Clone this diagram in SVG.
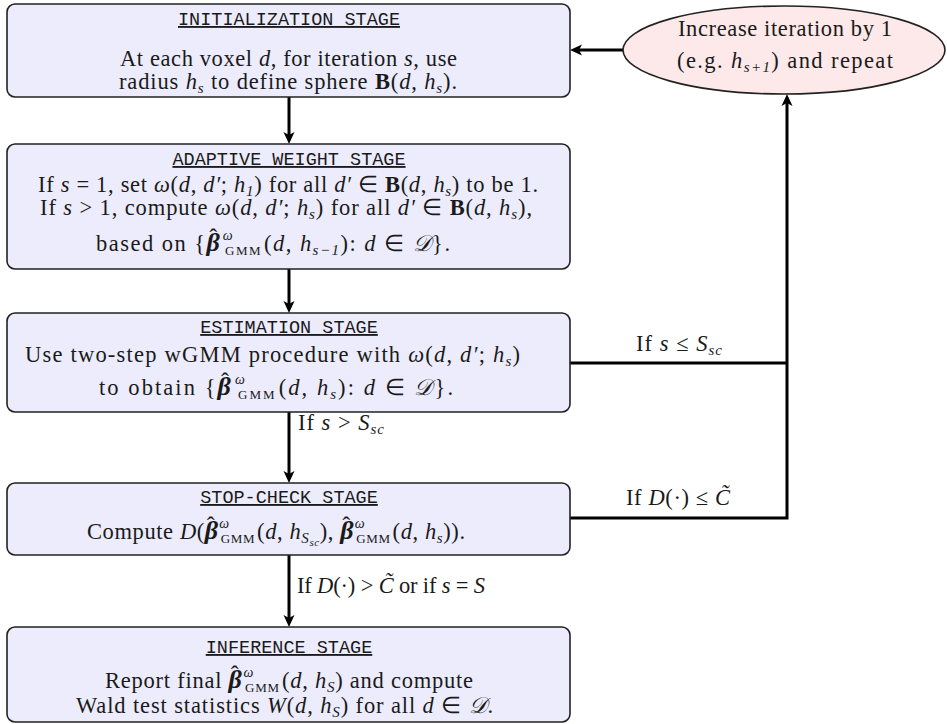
<svg xmlns="http://www.w3.org/2000/svg" width="947" height="724" viewBox="0 0 947 724">
<style>
.box{fill:#ececfc;stroke:#222;stroke-width:1.6}
.ell{fill:#fde9e9;stroke:#222;stroke-width:1.6}
.hdr{font-family:"Liberation Mono",monospace;font-size:18.5px;text-anchor:middle;text-decoration:underline;fill:#1a1a1a}
.t{font-family:"Liberation Serif",serif;font-size:22.5px;fill:#1a1a1a}
.i{font-style:italic}
.b{font-weight:bold}
.bb{font-weight:bold;font-style:italic;font-size:26px}
.hat{font-size:24px}
.sub{font-size:15px;font-style:italic}
.sup{font-size:14px;font-style:italic}
.sc{font-size:13px}
.ss{font-size:11px;font-style:italic}
.conn{stroke:#000;stroke-width:3;fill:none}
</style>
<defs>
<marker id="ah" viewBox="0 -6 13 12" refX="3" refY="0" markerWidth="13" markerHeight="12" markerUnits="userSpaceOnUse" orient="auto">
<path d="M0,-5.5 L12,0 L0,5.5 L3,0 z" fill="#000"/>
</marker>
</defs>
<g id="connectors">
<line class="conn" x1="289" y1="97" x2="289" y2="135" marker-end="url(#ah)"/>
<line class="conn" x1="289" y1="269" x2="289" y2="304" marker-end="url(#ah)"/>
<line class="conn" x1="289" y1="412" x2="289" y2="474" marker-end="url(#ah)"/>
<line class="conn" x1="289" y1="555" x2="289" y2="618" marker-end="url(#ah)"/>
<line class="conn" x1="623" y1="50" x2="579" y2="50" marker-end="url(#ah)"/>
<line class="conn" x1="570" y1="363" x2="787" y2="363"/>
<polyline class="conn" points="570,518 787,518 787,103" marker-end="url(#ah)"/>
<text class="t" x="636" y="351" textLength="86">If <tspan class="i">s</tspan> ≤ <tspan class="i">S</tspan><tspan class="sub" dy="4">sc</tspan></text>
<text class="t" x="626" y="505" textLength="104">If <tspan class="i">D</tspan>(·) ≤ <tspan class="i">C̃</tspan></text>
<text class="t" x="298" y="430" textLength="86">If <tspan class="i">s</tspan> &gt; <tspan class="i">S</tspan><tspan class="sub" dy="4">sc</tspan></text>
<text class="t" x="297" y="593" textLength="188">If <tspan class="i">D</tspan>(·) &gt; <tspan class="i">C̃</tspan> or if <tspan class="i">s</tspan> = <tspan class="i">S</tspan></text>
</g>
<g id="init">
<rect class="box" x="7" y="4" width="563" height="93" rx="8"/>
<text class="hdr" x="289" y="25">INITIALIZATION STAGE</text>
<text class="t" x="120" y="66" textLength="337">At each voxel <tspan class="i">d</tspan>, for iteration <tspan class="i">s</tspan>, use</text>
<text class="t" x="119" y="89" textLength="338">radius <tspan class="i">h</tspan><tspan class="sub" dy="4">s</tspan><tspan dy="-4"> to define sphere </tspan><tspan class="b">B</tspan>(<tspan class="i">d</tspan>, <tspan class="i">h</tspan><tspan class="sub" dy="4">s</tspan><tspan dy="-4">).</tspan></text>
</g>
<g id="adaptive">
<rect class="box" x="7" y="144" width="563" height="125" rx="8"/>
<text class="hdr" x="289" y="165">ADAPTIVE WEIGHT STAGE</text>
<text class="t" x="38" y="192" textLength="500">If <tspan class="i">s</tspan> = 1, set <tspan class="i">ω</tspan>(<tspan class="i">d</tspan>, <tspan class="i">d′</tspan>; <tspan class="i">h</tspan><tspan class="sub" dy="4">1</tspan><tspan dy="-4">) for all </tspan><tspan class="i">d′</tspan> ∈ <tspan class="b">B</tspan>(<tspan class="i">d</tspan>, <tspan class="i">h</tspan><tspan class="sub" dy="4">s</tspan><tspan dy="-4">) to be 1.</tspan></text>
<text class="t" x="40" y="215" textLength="492">If <tspan class="i">s</tspan> &gt; 1, compute <tspan class="i">ω</tspan>(<tspan class="i">d</tspan>, <tspan class="i">d′</tspan>; <tspan class="i">h</tspan><tspan class="sub" dy="4">s</tspan><tspan dy="-4">) for all </tspan><tspan class="i">d′</tspan> ∈ <tspan class="b">B</tspan>(<tspan class="i">d</tspan>, <tspan class="i">h</tspan><tspan class="sub" dy="4">s</tspan><tspan dy="-4">),</tspan></text>
<text class="t" x="96" y="251" textLength="354">based on {<tspan class="bb">β</tspan><tspan class="hat" dx="-12" dy="-6">ˆ</tspan><tspan class="sup" dx="4" dy="-5">ω</tspan><tspan class="sc" dx="-9" dy="15">GMM</tspan><tspan dx="2" dy="-4">(</tspan><tspan class="i">d</tspan>, <tspan class="i">h</tspan><tspan class="sub" dy="4">s−1</tspan><tspan dy="-4">): </tspan><tspan class="i">d</tspan> ∈ <tspan class="i">𝒟</tspan>}.</text>
</g>
<g id="estimation">
<rect class="box" x="7" y="313" width="563" height="99" rx="8"/>
<text class="hdr" x="289" y="333">ESTIMATION STAGE</text>
<text class="t" x="25" y="362" textLength="495">Use two-step wGMM procedure with <tspan class="i">ω</tspan>(<tspan class="i">d</tspan>, <tspan class="i">d′</tspan>; <tspan class="i">h</tspan><tspan class="sub" dy="4">s</tspan><tspan dy="-4">)</tspan></text>
<text class="t" x="99" y="395" textLength="354">to obtain {<tspan class="bb">β</tspan><tspan class="hat" dx="-12" dy="-6">ˆ</tspan><tspan class="sup" dx="4" dy="-5">ω</tspan><tspan class="sc" dx="-9" dy="15">GMM</tspan><tspan dx="2" dy="-4">(</tspan><tspan class="i">d</tspan>, <tspan class="i">h</tspan><tspan class="sub" dy="4">s</tspan><tspan dy="-4">): </tspan><tspan class="i">d</tspan> ∈ <tspan class="i">𝒟</tspan>}.</text>
</g>
<g id="stopcheck">
<rect class="box" x="7" y="483" width="563" height="72" rx="8"/>
<text class="hdr" x="289" y="503">STOP-CHECK STAGE</text>
<text class="t" x="87" y="539" textLength="378">Compute <tspan class="i">D</tspan>(<tspan class="bb">β</tspan><tspan class="hat" dx="-12" dy="-6">ˆ</tspan><tspan class="sup" dx="4" dy="-5">ω</tspan><tspan class="sc" dx="-9" dy="15">GMM</tspan><tspan dx="2" dy="-4">(</tspan><tspan class="i">d</tspan>, <tspan class="i">h</tspan><tspan class="sub" dy="4">S</tspan><tspan class="ss" dy="3">sc</tspan><tspan dy="-7">), </tspan><tspan class="bb">β</tspan><tspan class="hat" dx="-12" dy="-6">ˆ</tspan><tspan class="sup" dx="4" dy="-5">ω</tspan><tspan class="sc" dx="-9" dy="15">GMM</tspan><tspan dx="2" dy="-4">(</tspan><tspan class="i">d</tspan>, <tspan class="i">h</tspan><tspan class="sub" dy="4">s</tspan><tspan dy="-4">)).</tspan></text>
</g>
<g id="inference">
<rect class="box" x="7" y="627" width="563" height="95" rx="8"/>
<text class="hdr" x="289" y="653">INFERENCE STAGE</text>
<text class="t" x="105" y="688" textLength="368">Report final <tspan class="bb">β</tspan><tspan class="hat" dx="-12" dy="-6">ˆ</tspan><tspan class="sup" dx="4" dy="-5">ω</tspan><tspan class="sc" dx="-9" dy="15">GMM</tspan><tspan dx="2" dy="-4">(</tspan><tspan class="i">d</tspan>, <tspan class="i">h</tspan><tspan class="sub" dy="4">S</tspan><tspan dy="-4">) and compute</tspan></text>
<text class="t" x="76" y="713" textLength="417">Wald test statistics <tspan class="i">W</tspan>(<tspan class="i">d</tspan>, <tspan class="i">h</tspan><tspan class="sub" dy="4">S</tspan><tspan dy="-4">) for all </tspan><tspan class="i">d</tspan> ∈ <tspan class="i">𝒟</tspan>.</text>
</g>
<g id="repeat">
<ellipse class="ell" cx="784" cy="50" rx="161" ry="44"/>
<text class="t" x="678" y="36" textLength="214">Increase iteration by 1</text>
<text class="t" x="677" y="68" textLength="216">(e.g. <tspan class="i">h</tspan><tspan class="sub" dy="4">s+1</tspan><tspan dy="-4">) and repeat</tspan></text>
</g>
</svg>
